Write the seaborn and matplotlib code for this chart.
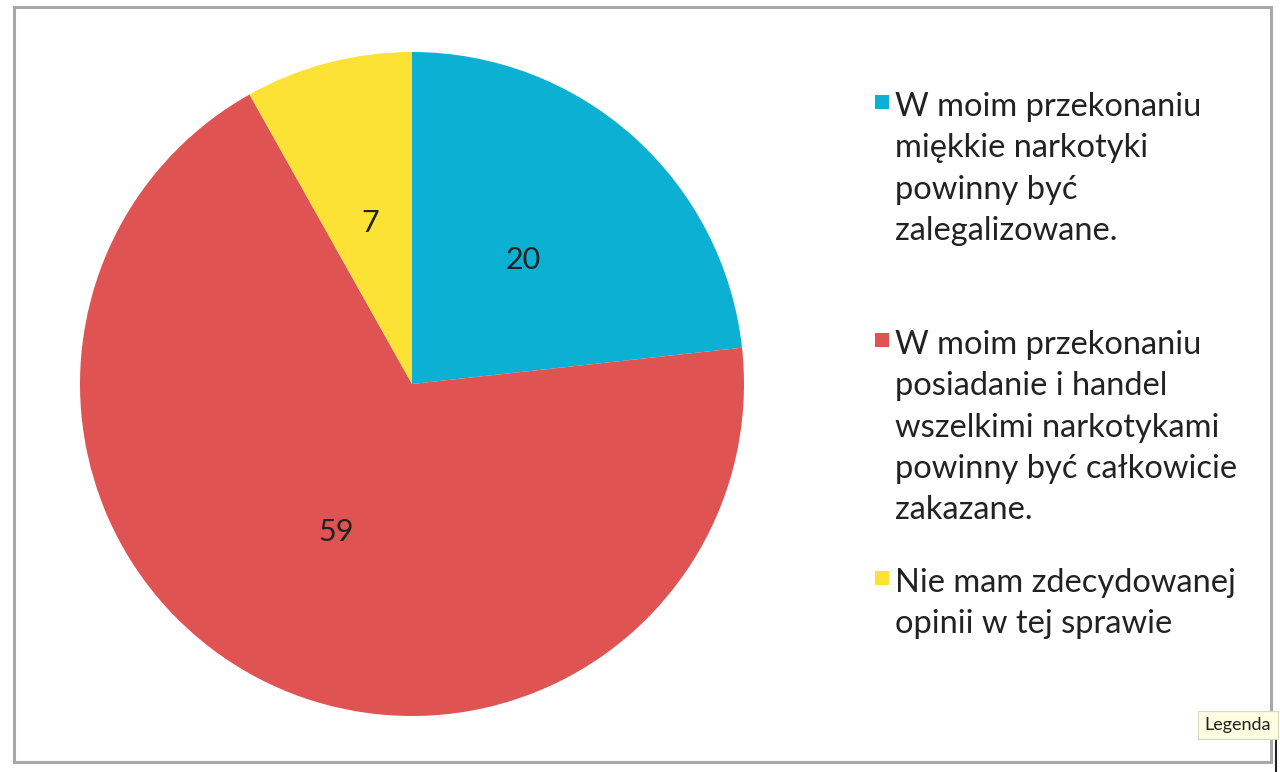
import matplotlib.pyplot as plt
import seaborn as sns
from matplotlib.patches import Rectangle

# Daten
kategorien = [
    "W moim przekonaniu\nmiękkie narkotyki\npowinny być\nzalegalizowane.",
    "W moim przekonaniu\nposiadanie i handel\nwszelkimi narkotykami\npowinny być całkowicie\nzakazane.",
    "Nie mam zdecydowanej\nopinii w tej sprawie",
]
werte = [20, 59, 7]
farben = ["#0BB0D3", "#E05353", "#FCE234"]

sns.set_theme(style="white")
plt.rcParams['font.family'] = ['Lato', 'DejaVu Sans']

fig = plt.figure(figsize=(12.8, 7.72), dpi=100)
W, H = 1280, 772

# Pie: Mitte (412, 384), Radius 332 px
ax = fig.add_axes([80 / W, (H - 716) / H, 664 / W, 664 / H])
ax.pie(werte, colors=farben, startangle=90, counterclock=False,
       labels=[str(v) for v in werte], labeldistance=0.5,
       textprops={'fontsize': 22, 'color': '#222222', 'ha': 'center', 'va': 'center'},
       wedgeprops={'linewidth': 0})
ax.set_xlim(-1, 1)
ax.set_ylim(-1, 1)
ax.set_aspect('equal')
ax.axis('off')

# Legende von Hand
legend_y = [92, 330, 568]
for lab, col, y in zip(kategorien, farben, legend_y):
    fig.patches.append(Rectangle((875 / W, (H - y - 17) / H), 14 / W, 14 / H,
                                 transform=fig.transFigure, facecolor=col,
                                 edgecolor='none'))
    fig.text(895 / W, (H - y) / H, lab, fontsize=23.5, color='#222222',
             va='top', ha='left', linespacing=1.47)

# Rahmen
fig.patches.append(Rectangle((14 / W, (H - 762) / H), (1271 - 14) / W, (762 - 7) / H,
                             transform=fig.transFigure, facecolor='none',
                             edgecolor='#A8A8A8', linewidth=2.2))
fig.lines.append(plt.Line2D([1276 / W, 1276 / W], [0, (H - 716) / H],
                            transform=fig.transFigure, color='#222222', linewidth=1.5))

# Tooltip
fig.text(1238 / W, (H - 725) / H, "Legenda", fontsize=13, color='#222222',
         ha='center', va='center',
         bbox=dict(boxstyle='square,pad=0.35', facecolor='#FDFDE2',
                   edgecolor='#D8D8C0', linewidth=0.8))

fig.savefig("out.png", dpi=100)
